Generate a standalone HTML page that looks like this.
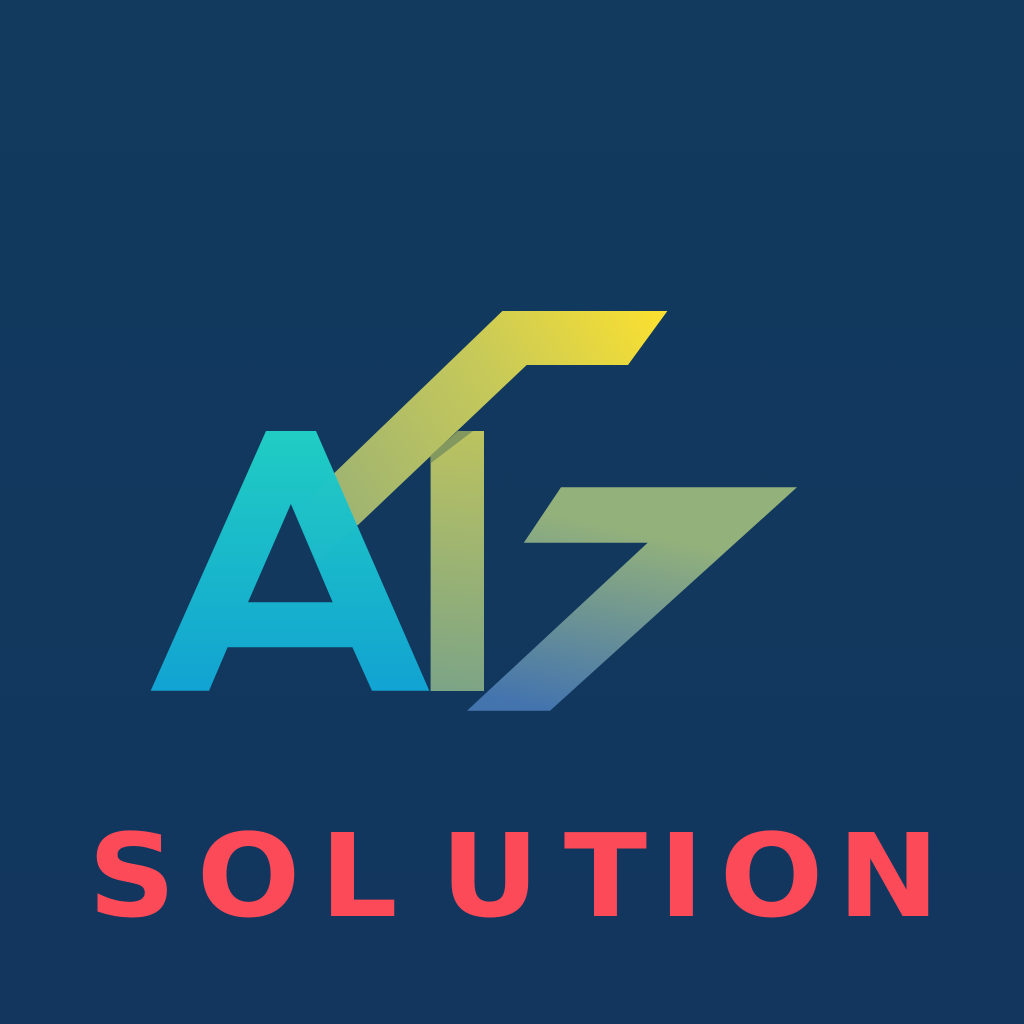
<!DOCTYPE html>
<html lang="en">
<head>
<meta charset="utf-8">
<title>AI7 Solution logo</title>
<style>
  html, body { margin: 0; padding: 0; background: #12385e; }
  svg { display: block; }
</style>
</head>
<body>
<svg xmlns="http://www.w3.org/2000/svg" width="1024" height="1024" viewBox="0 0 1024 1024">
  <defs>
    <linearGradient id="bgGrad" x1="0" y1="0" x2="0" y2="1">
      <stop offset="0" stop-color="#113a5e"/>
      <stop offset="1" stop-color="#12365e"/>
    </linearGradient>
    <linearGradient id="ribbonGrad" gradientUnits="userSpaceOnUse" x1="655" y1="320" x2="350" y2="520">
      <stop offset="0" stop-color="#f8df32"/>
      <stop offset="0.45" stop-color="#c8ca58"/>
      <stop offset="1" stop-color="#9fb472"/>
    </linearGradient>
    <linearGradient id="barGrad" gradientUnits="userSpaceOnUse" x1="470" y1="431" x2="445" y2="691">
      <stop offset="0" stop-color="#bcc35f"/>
      <stop offset="1" stop-color="#7ca486"/>
    </linearGradient>
    <linearGradient id="sevenGrad" gradientUnits="userSpaceOnUse" x1="600" y1="525" x2="560" y2="712">
      <stop offset="0" stop-color="#93b17b"/>
      <stop offset="1" stop-color="#4474ae"/>
    </linearGradient>
    <linearGradient id="letterAGrad" gradientUnits="userSpaceOnUse" x1="0" y1="431" x2="0" y2="691">
      <stop offset="0" stop-color="#20cdc3"/>
      <stop offset="1" stop-color="#12a3d2"/>
    </linearGradient>
  </defs>

  <rect x="0" y="0" width="1024" height="1024" fill="url(#bgGrad)"/>

  <polygon points="502.4,311 667.4,311 628,365 526.7,365 358,525 345,525 325,482" fill="url(#ribbonGrad)"/>

  <polygon points="458,431 484,431 484,691 430.6,691 430.6,456" fill="url(#barGrad)"/>

  <polygon points="458,431 473,431 431,463 431,455" fill="#82985f"/>

  <polygon points="561,487.3 797,487.3 550,710.7 467,710.7 647.7,542.7 523.8,542.7" fill="url(#sevenGrad)"/>

  <path fill-rule="evenodd" d="M266,431 L316,431 L429.3,690.7 L372,690.7 L352.4,647.3 L227.6,647.3 L209,690.7 L150.7,690.7 Z M290.9,504 L332.7,602.3 L248,602.3 Z" fill="url(#letterAGrad)"/>

  <polygon points="335,472 358,525 318,563 297,514" fill="#ffffff" fill-opacity="0.015"/>

  <text transform="scale(1.06,1)" y="916" x="83 185.6 301.8 415.5 532 621.5 679 790" font-family="'DejaVu Sans', sans-serif" font-weight="700" font-size="115" fill="#fd4a58">SOLUTION</text>
</svg>
</body>
</html>
